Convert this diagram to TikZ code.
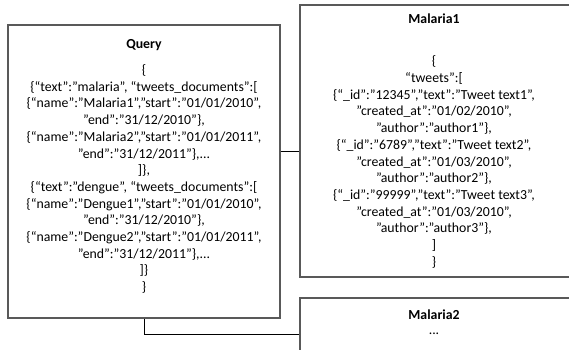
\documentclass[tikz,border=0pt]{standalone}
\usepackage{fontspec}
\setmainfont{Carlito}
\begin{document}
\begin{tikzpicture}[x=1pt,y=-1pt,
  box/.style={draw=black!65, line width=1.2pt, rectangle, inner sep=0pt},
  titletext/.style={font=\fontsize{13.8}{16.7}\selectfont\bfseries, inner sep=0pt},
  bodytext/.style={font=\fontsize{13.8}{16.7}\selectfont, align=center, inner sep=0pt},
  conn/.style={draw=black, line width=1pt}]
\useasboundingbox (0,0) rectangle (569,349);
\clip (0,0) rectangle (569,349);
\fill[white] (0,0) rectangle (569,349);
% boxes
\node[box, minimum width=272pt, minimum height=293pt] (query) at (144,171.5) {};
\node[box, minimum width=280pt, minimum height=272pt] (malaria1) at (440,141) {};
\node[box, minimum width=280pt, minimum height=100pt] (malaria2) at (440,348) {};
% texts
\node[titletext] (qtitle) at (144,45) {Query};
\node[bodytext] (qbody) at (144,179) {\{\\
\{“text”:”malaria”, “tweets\_documents”:[\\
\{“name”:”Malaria1”,”start”:”01/01/2010”,\\
”end”:”31/12/2010”\},\\
\{“name”:”Malaria2”,”start”:”01/01/2011”,\\
”end”:”31/12/2011”\},...\\
]\},\\
\{“text”:”dengue”, “tweets\_documents”:[\\
\{“name”:”Dengue1”,”start”:”01/01/2010”,\\
”end”:”31/12/2010”\},\\
\{“name”:”Dengue2”,”start”:”01/01/2011”,\\
”end”:”31/12/2011”\},...\\
]\}\\
\}};
\node[titletext] (m1title) at (434,19) {Malaria1};
\node[bodytext] (m1body) at (434,162) {\{\\
“tweets”:[\\
\{“\_id”:”12345”,”text”:”Tweet text1”,\\
”created\_at”:”01/02/2010”,\\
”author”:”author1”\},\\
\{“\_id”:”6789”,”text”:”Tweet text2”,\\
”created\_at”:”01/03/2010”,\\
”author”:”author2”\},\\
\{“\_id”:”99999”,”text”:”Tweet text3”,\\
”created\_at”:”01/03/2010”,\\
”author”:”author3”\},\\
]\\
\}};
\node[titletext] (m2title) at (434,315) {Malaria2};
\node[bodytext] (m2body) at (434,334) {...};
% connectors
\coordinate (c1) at (0,151);
\coordinate (c2) at (0,334);
\draw[conn] (query.east |- c1) -- (malaria1.west |- c1);
\draw[conn] (query.south) |- (malaria2.west |- c2);
\end{tikzpicture}
\end{document}
